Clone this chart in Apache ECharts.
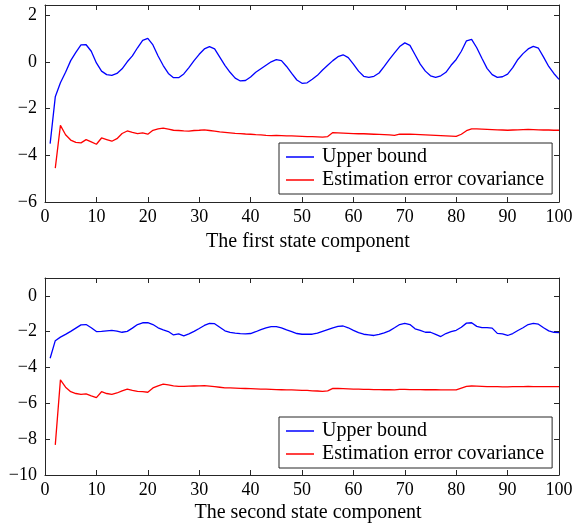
<!DOCTYPE html>
<html><head><meta charset="utf-8">
<script src="https://cdn.jsdelivr.net/npm/echarts@6/dist/echarts.min.js"></script>
<style>html,body{margin:0;padding:0;background:#fff}#c{width:576px;height:529px}</style>
</head><body><div id="c"></div>
<script>
var steps = [];
for (var k = 1; k <= 100; k++) steps.push(k);
var upper1 = [-3.5,-1.5,-0.9,-0.45,0.05,0.4,0.72,0.73,0.45,-0.05,
-0.4,-0.55,-0.58,-0.5,-0.3,0.0,0.25,0.6,0.92,1.0,
0.72,0.25,-0.16,-0.5,-0.68,-0.68,-0.52,-0.25,0.05,0.32,
0.55,0.65,0.55,0.2,-0.15,-0.45,-0.7,-0.82,-0.8,-0.65,
-0.45,-0.3,-0.15,0.0,0.09,0.05,-0.2,-0.5,-0.78,-0.92,
-0.9,-0.75,-0.58,-0.35,-0.15,0.05,0.22,0.3,0.18,-0.1,
-0.4,-0.62,-0.67,-0.62,-0.48,-0.2,0.1,0.38,0.65,0.81,
0.7,0.3,-0.1,-0.4,-0.6,-0.67,-0.6,-0.45,-0.15,0.1,
0.45,0.9,0.96,0.6,0.15,-0.28,-0.55,-0.67,-0.64,-0.53,
-0.25,0.1,0.35,0.55,0.66,0.58,0.2,-0.2,-0.5,-0.75];
var est1 = [null,-4.55,-2.72,-3.12,-3.35,-3.45,-3.47,-3.33,-3.43,-3.53,
-3.26,-3.33,-3.4,-3.29,-3.07,-2.96,-3.02,-3.07,-3.04,-3.1,
-2.93,-2.87,-2.84,-2.88,-2.93,-2.94,-2.96,-2.97,-2.94,-2.93,
-2.91,-2.94,-2.97,-3.0,-3.02,-3.04,-3.06,-3.07,-3.09,-3.1,
-3.12,-3.13,-3.15,-3.16,-3.15,-3.16,-3.17,-3.17,-3.18,-3.19,
-3.2,-3.2,-3.21,-3.22,-3.2,-3.03,-3.04,-3.05,-3.06,-3.07,
-3.08,-3.08,-3.09,-3.1,-3.11,-3.12,-3.13,-3.15,-3.1,-3.1,
-3.1,-3.11,-3.12,-3.13,-3.14,-3.15,-3.16,-3.17,-3.18,-3.19,
-3.1,-2.95,-2.87,-2.87,-2.88,-2.89,-2.9,-2.91,-2.92,-2.93,
-2.92,-2.91,-2.9,-2.89,-2.9,-2.91,-2.92,-2.92,-2.93,-2.93];
var upper2 = [-3.48,-2.5,-2.3,-2.15,-1.98,-1.8,-1.62,-1.6,-1.78,-1.99,
-1.98,-1.95,-1.93,-1.97,-2.03,-1.98,-1.8,-1.6,-1.5,-1.49,
-1.6,-1.78,-1.9,-1.99,-2.18,-2.12,-2.23,-2.12,-1.98,-1.82,
-1.65,-1.53,-1.55,-1.75,-1.95,-2.04,-2.08,-2.11,-2.12,-2.1,
-2.0,-1.88,-1.78,-1.72,-1.71,-1.78,-1.9,-2.0,-2.1,-2.14,
-2.14,-2.14,-2.08,-1.98,-1.88,-1.78,-1.7,-1.68,-1.78,-1.92,
-2.05,-2.14,-2.17,-2.21,-2.15,-2.06,-1.95,-1.78,-1.6,-1.53,
-1.6,-1.84,-1.92,-2.03,-2.03,-2.15,-2.27,-2.1,-2.0,-1.92,
-1.75,-1.52,-1.5,-1.7,-1.77,-1.77,-1.8,-2.09,-2.12,-2.21,
-2.1,-1.93,-1.78,-1.6,-1.53,-1.58,-1.78,-1.95,-2.03,-2.05];
var est2 = [null,-8.32,-4.69,-5.1,-5.35,-5.45,-5.5,-5.47,-5.58,-5.68,
-5.35,-5.45,-5.5,-5.42,-5.3,-5.2,-5.28,-5.33,-5.35,-5.38,
-5.14,-5.02,-4.92,-4.97,-5.02,-5.05,-5.05,-5.04,-5.03,-5.02,
-5.01,-5.04,-5.07,-5.1,-5.13,-5.14,-5.15,-5.16,-5.17,-5.18,
-5.19,-5.2,-5.21,-5.22,-5.23,-5.24,-5.25,-5.25,-5.26,-5.27,
-5.28,-5.3,-5.31,-5.33,-5.3,-5.16,-5.17,-5.18,-5.19,-5.2,
-5.21,-5.22,-5.22,-5.23,-5.23,-5.24,-5.24,-5.25,-5.22,-5.22,
-5.23,-5.23,-5.23,-5.24,-5.24,-5.24,-5.25,-5.25,-5.25,-5.25,
-5.15,-5.05,-5.03,-5.04,-5.05,-5.06,-5.07,-5.07,-5.08,-5.08,
-5.07,-5.06,-5.06,-5.05,-5.06,-5.06,-5.07,-5.07,-5.07,-5.07];
var xTicks = [0,10,20,30,40,50,60,70,80,90,100];
var yTicks1 = [-6,-4,-2,0,2];
var yTicks2 = [-10,-8,-6,-4,-2,0];
var names = ['Upper bound','Estimation error covariance'];
var xTitles = ['The first state component','The second state component'];

var FONT = '"Liberation Serif", "Times New Roman", serif';
var AX = '#262626';
function pairs(vals){ return vals.map(function(v,i){ return [steps[i], v]; }); }
function fmt(v){ return String(v).replace('-', '\u2212'); }

function xAx(grid, pos, labels, title, gap){
  return {type:'value', gridIndex:grid, position:pos, min:0, max:100, interval:10,
    axisLine:{show:true, onZero:false, lineStyle:{color:AX, width:1}},
    axisTick:{show:true, inside:true, length:5, lineStyle:{color:AX}, customValues:xTicks},
    axisLabel:{show:labels, margin:6, color:'#000', fontFamily:FONT, fontSize:18, formatter:fmt, customValues:xTicks},
    splitLine:{show:false},
    name: title || '', nameLocation:'middle', nameGap: gap || 0,
    nameTextStyle:{color:'#000', fontFamily:FONT, fontSize:20, padding:[0,0,0,12]}};
}
function yAx(grid, pos, labels, min, max, ticks){
  return {type:'value', gridIndex:grid, position:pos, min:min, max:max,
    axisLine:{show:true, onZero:false, lineStyle:{color:AX, width:1}},
    axisTick:{show:true, inside:true, length:5, lineStyle:{color:AX}, customValues:ticks},
    axisLabel:{show:labels, margin:8, color:'#000', fontFamily:FONT, fontSize:18, formatter:fmt, customValues:ticks},
    splitLine:{show:false}};
}
function legend(top){
  return {data:names.map(function(n){ return {name:n, icon:'rect'}; }),
    orient:'vertical', left:279, top:top, width:274,
    backgroundColor:'#fff', borderColor:AX, borderWidth:1, borderRadius:0,
    padding:[4,8,4,7], itemWidth:28, itemHeight:1.5, itemGap:3,
    textStyle:{color:'#000', fontFamily:FONT, fontSize:20, lineHeight:20, padding:[0,0,0,3]}};
}
function line(name, x, y, data, color){
  return {type:'line', name:name, xAxisIndex:x, yAxisIndex:y, data:pairs(data),
    showSymbol:false, symbol:'none', smooth:false, connectNulls:false, animation:false,
    lineStyle:{color:color, width:1.3}, itemStyle:{color:color}, z:3};
}

var chart = echarts.init(document.getElementById('c'), null, {renderer:'canvas'});
chart.setOption({
  animation:false,
  backgroundColor:'#fff',
  grid:[{left:45, top:5, width:514, height:197},
        {left:45, top:278, width:514, height:197}],
  xAxis:[xAx(0,'bottom',true,xTitles[0],30), xAx(0,'top',false),
         xAx(1,'bottom',true,xTitles[1],28), xAx(1,'top',false)],
  yAxis:[yAx(0,'left',true,-6,2.43,yTicks1), yAx(0,'right',false,-6,2.43,yTicks1),
         yAx(1,'left',true,-10,1,yTicks2), yAx(1,'right',false,-10,1,yTicks2)],
  legend:[legend(143), legend(417)],
  series:[line(names[0],0,0,upper1,'#0000ff'), line(names[1],0,0,est1,'#ff0000'),
          line(names[0],2,2,upper2,'#0000ff'), line(names[1],2,2,est2,'#ff0000')]
});
</script></body></html>
